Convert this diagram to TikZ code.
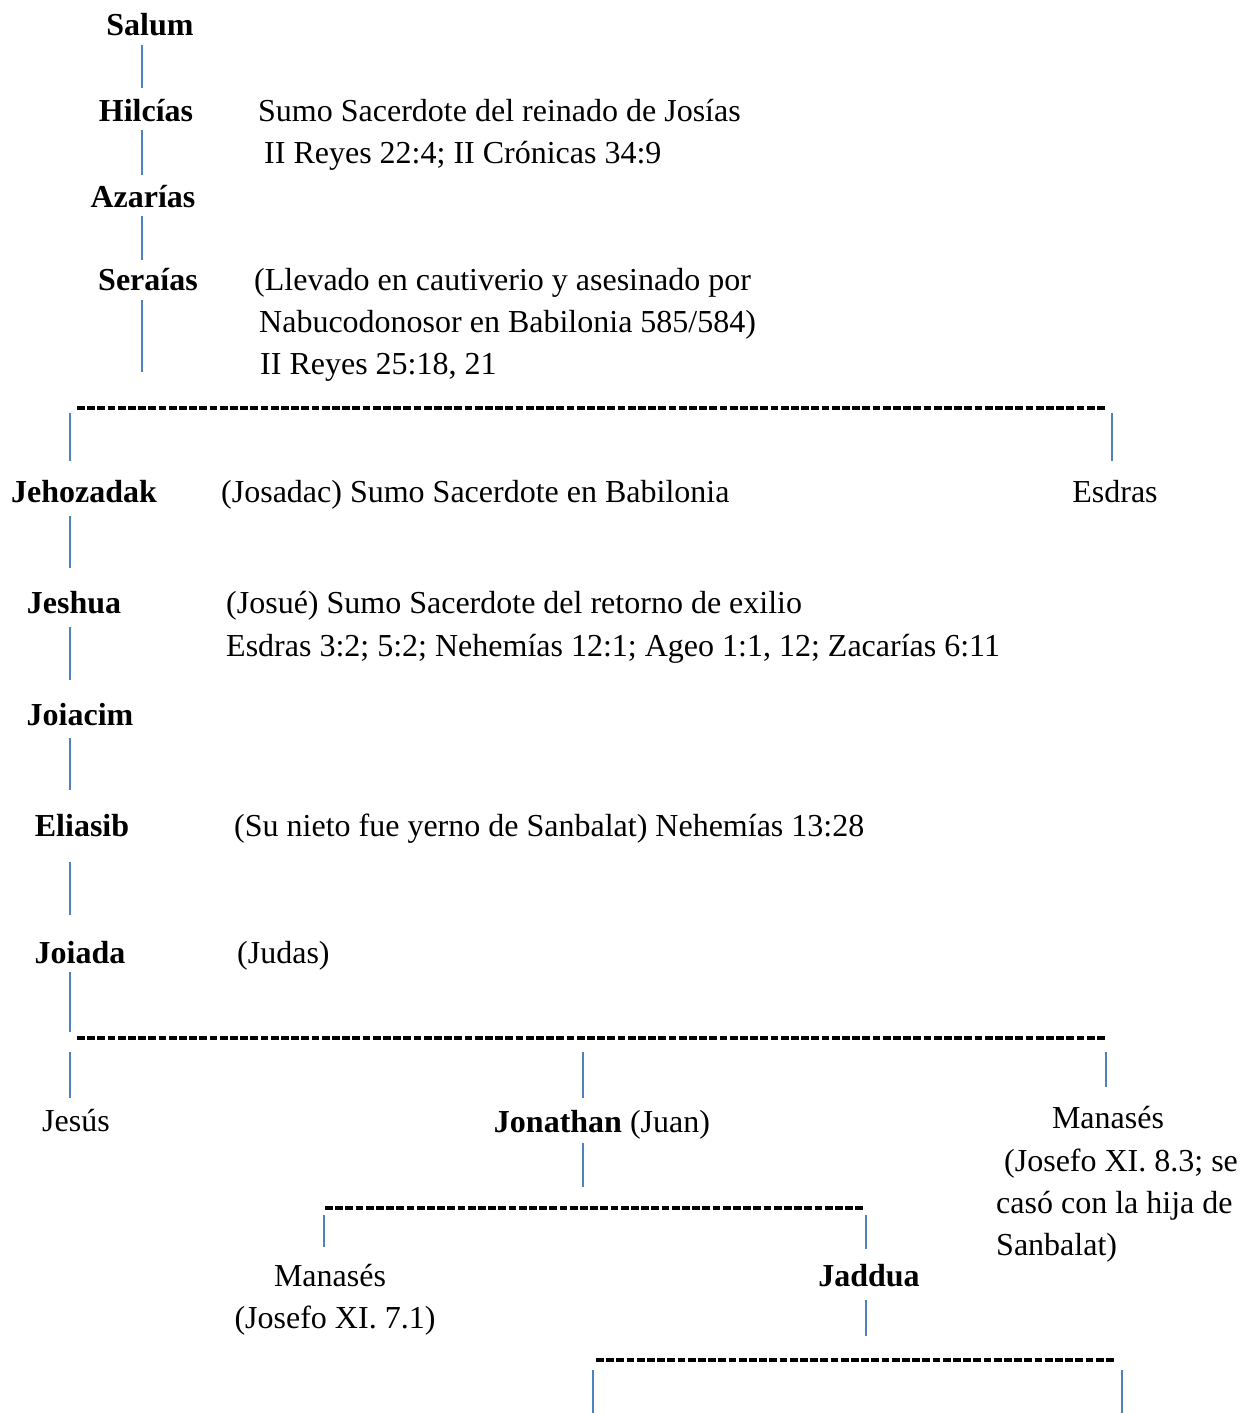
\documentclass[tikz,border=0pt]{standalone}
\usepackage{fontspec}
\setmainfont{Liberation Serif}
\usetikzlibrary{positioning}

\definecolor{linkblue}{HTML}{4F81BD}
\tikzset{
  plaintxt/.style={font=\fontsize{32}{42}\selectfont, inner sep=0pt,
    text height=22pt, text depth=7pt, anchor=base},
  priest/.style={plaintxt, font=\fontsize{32}{42}\selectfont\bfseries},
  remark/.style={plaintxt, anchor=base west},
  link/.style={linkblue, line width=2.5pt},
  bar/.style={black, line width=3.2pt, dash pattern=on 7.8pt off 2.4pt},
}

\begin{document}
\begin{tikzpicture}[x=1pt, y=-1pt]
  \useasboundingbox (0,0) rectangle (1240,1413);

  % first generations
  \node [priest] (salum) at (150,36) {Salum};
  \node [priest] (hilcias) at (146,121) {Hilcías};
  \node [remark] (hilciasN) at (258,121) {Sumo Sacerdote del reinado de Josías};
  \node [remark] at (264,163) {II Reyes 22:4; II Crónicas 34:9};
  \node [priest] (azarias) at (143,207) {Azarías};
  \node [priest] (seraias) at (148,290) {Seraías};
  \node [remark] at (254,290) {(Llevado en cautiverio y asesinado por};
  \node [remark] at (259,332) {Nabucodonosor en Babilonia 585/584)};
  \node [remark] at (260,374) {II Reyes 25:18, 21};

  \coordinate (spineA) at (142,0);
  \draw [link, shorten <=2pt, shorten >=11pt] (salum.south -| spineA) -- (hilcias.north -| spineA);
  \draw [link, shorten <=2pt, shorten >=10pt] (hilcias.south -| spineA) -- (azarias.north -| spineA);
  \draw [link, shorten <=2pt, shorten >=8pt] (azarias.south -| spineA) -- (seraias.north -| spineA);
  \coordinate (seraiasEnd) at (142,372);
  \draw [link, shorten <=3pt] (seraias.south -| spineA) -- (seraiasEnd);

  % sons of Seraias
  \coordinate (barAl) at (77,408);
  \coordinate (barAr) at (1107,408);
  \draw [bar] (barAl) -- (barAr);
  \node [priest] (jehozadak) at (84,502) {Jehozadak};
  \node [remark] at (221,502) {(Josadac) Sumo Sacerdote en Babilonia};
  \node [plaintxt] (esdras) at (1115,502) {Esdras};
  \coordinate (dropJ) at (70,413);
  \coordinate (dropE) at (1112,413);
  \draw [link, shorten >=19pt] (dropJ) -- (jehozadak.north -| dropJ);
  \draw [link, shorten >=19pt] (dropE) -- (esdras.north -| dropE);

  % line of Jehozadak
  \node [priest] (jeshua) at (74,613) {Jeshua};
  \node [remark] at (226,613) {(Josué) Sumo Sacerdote del retorno de exilio};
  \node [remark] at (226,656) {Esdras 3:2; 5:2; Nehemías 12:1; Ageo 1:1, 12; Zacarías 6:11};
  \node [priest] (joiacim) at (80,725) {Joiacim};
  \node [priest] (eliasib) at (82,836) {Eliasib};
  \node [remark] at (234,836) {(Su nieto fue yerno de Sanbalat) Nehemías 13:28};
  \node [priest] (joiada) at (80,963) {Joiada};
  \node [remark] at (237,963) {(Judas)};

  \coordinate (spineB) at (70,0);
  \draw [link, shorten <=7pt, shorten >=23pt] (jehozadak.south -| spineB) -- (jeshua.north -| spineB);
  \draw [link, shorten <=7pt, shorten >=23pt] (jeshua.south -| spineB) -- (joiacim.north -| spineB);
  \draw [link, shorten <=6pt, shorten >=24pt] (joiacim.south -| spineB) -- (eliasib.north -| spineB);
  \draw [link, shorten <=19pt, shorten >=26pt] (eliasib.south -| spineB) -- (joiada.north -| spineB);
  \coordinate (joiadaEnd) at (70,1032);
  \draw [link, shorten <=2pt] (joiada.south -| spineB) -- (joiadaEnd);

  % sons of Joiada
  \coordinate (barBl) at (77,1038);
  \coordinate (barBr) at (1107,1038);
  \draw [bar] (barBl) -- (barBr);
  \node [plaintxt] (jesus) at (76,1131) {Jesús};
  \node [plaintxt] (jonathan) at (602,1132) {\textbf{Jonathan} (Juan)};
  \node [plaintxt] (manasesA) at (1108,1128) {Manasés};
  \node [remark] at (1004,1171) {(Josefo XI. 8.3; se};
  \node [remark] at (996,1213) {casó con la hija de};
  \node [remark] at (996,1255) {Sanbalat)};
  \coordinate (dropJs) at (70,1052);
  \coordinate (dropJn) at (583,1052);
  \coordinate (dropM) at (1106,1052);
  \draw [link, shorten >=11pt] (dropJs) -- (jesus.north -| dropJs);
  \draw [link, shorten >=12pt] (dropJn) -- (jonathan.north -| dropJn);
  \draw [link, shorten >=19pt] (dropM) -- (manasesA.north -| dropM);

  % sons of Jonathan
  \coordinate (jonathanEnd) at (583,1187);
  \draw [link, shorten <=4pt] (jonathan.south -| dropJn) -- (jonathanEnd);
  \coordinate (barCl) at (325,1208);
  \coordinate (barCr) at (865,1208);
  \draw [bar] (barCl) -- (barCr);
  \node [plaintxt] (manasesB) at (330,1286) {Manasés};
  \node [plaintxt] at (335,1328) {(Josefo XI. 7.1)};
  \node [priest] (jaddua) at (869,1286) {Jaddua};
  \coordinate (dropMB) at (324,1215);
  \coordinate (dropJd) at (866,1215);
  \draw [link, shorten >=17pt] (dropMB) -- (manasesB.north -| dropMB);
  \draw [link, shorten >=15pt] (dropJd) -- (jaddua.north -| dropJd);

  % sons of Jaddua
  \coordinate (jadduaEnd) at (866,1336);
  \draw [link, shorten <=7pt] (jaddua.south -| dropJd) -- (jadduaEnd);
  \coordinate (barDl) at (596,1360);
  \coordinate (barDr) at (1116,1360);
  \draw [bar] (barDl) -- (barDr);
  \coordinate (dropL) at (593,1370);
  \coordinate (dropR) at (1122,1370);
  \draw [link] (dropL) -- (dropL |- 0,1413);
  \draw [link] (dropR) -- (dropR |- 0,1413);
\end{tikzpicture}
\end{document}
